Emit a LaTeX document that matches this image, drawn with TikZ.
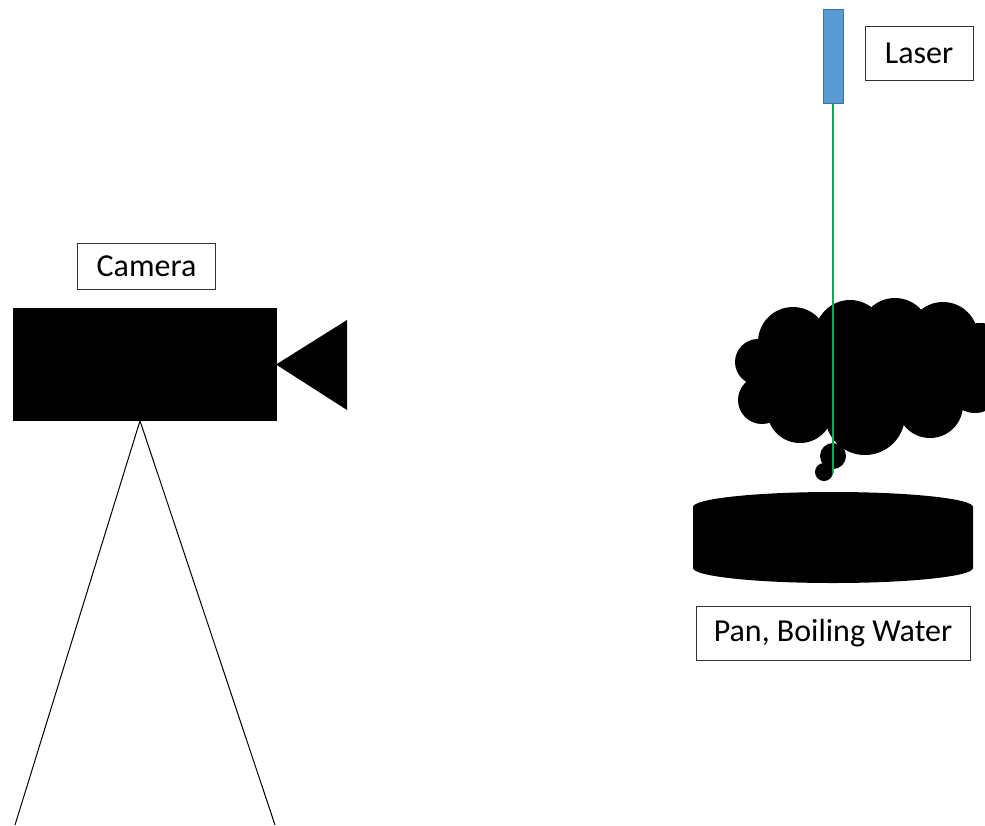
\documentclass[tikz,border=0pt]{standalone}
\usepackage{fontspec}
\setmainfont{Carlito}
\definecolor{laserblue}{RGB}{91,155,213}
\definecolor{laseredge}{RGB}{65,113,156}
\definecolor{beamgreen}{RGB}{0,176,80}
\tikzset{
  labelbox/.style={draw=black!80,line width=0.75pt,fill=white,inner sep=0.75pt,
    font=\fontsize{24}{28}\selectfont,align=center},
  solid black/.style={fill=black,draw=black}
}
\begin{document}
\begin{tikzpicture}[x=0.75pt,y=0.75pt,yscale=-1,xscale=1]
\useasboundingbox (0,0) rectangle (985,825);
% Camera body and lens
\node (cam) [solid black,minimum width=197pt,minimum height=84pt,inner sep=0pt] at (144.5,364.5) {};
\fill (cam.east) -- (347,320) -- (347,410) -- cycle;
% Tripod
\coordinate (legL) at (15,825);
\coordinate (legR) at (275,825);
\draw [line width=0.75pt] (legL) -- (cam.south -| 140,0) -- (legR);
% Text Node
\node (camlabel) [labelbox,minimum width=104pt,minimum height=34.5pt] at (146.5,266) {Camera};
% Laser
\node (laser) [fill=laserblue,draw=laseredge,line width=0.75pt,minimum width=15pt,minimum height=71pt,inner sep=0pt] at (833,56.5) {};
% Text Node
\node (laserlabel) [labelbox,minimum width=81pt,minimum height=40pt] at (919,53.5) {Laser};
% Steam cloud: a core through the puff centres, then the puffs
\begin{scope}
\clip (700,280) rectangle (985,490);
\fill (758,362) -- (793,342) -- (850,335) -- (895,333) -- (943,337) -- (980,360)
      -- (975,385) -- (930,405) -- (865,415) -- (800,410) -- (762,400) -- cycle;
\foreach \cx/\cy/\r in {870/375/58, 758/362/23, 762/400/24, 793/342/35,
    800/410/33, 850/335/35, 895/333/35, 943/337/35, 980/360/37,
    975/385/28, 930/405/33, 865/415/40, 833/456/13, 824/472/9}
  \fill (\cx,\cy) circle (\r);
\end{scope}
% Beam
\coordinate (beamend) at (833,473);
\draw [beamgreen,line width=0.9pt] (laser.south) -- (beamend);
% Pan
\fill (693,507) arc [start angle=180,end angle=360,x radius=140,y radius=15]
      -- (973,568) arc [start angle=0,end angle=180,x radius=140,y radius=15] -- cycle;
% Text Node
\node (panlabel) [labelbox,minimum width=205.5pt,minimum height=40pt] at (833,633.5) {Pan, Boiling Water};
\end{tikzpicture}
\end{document}
